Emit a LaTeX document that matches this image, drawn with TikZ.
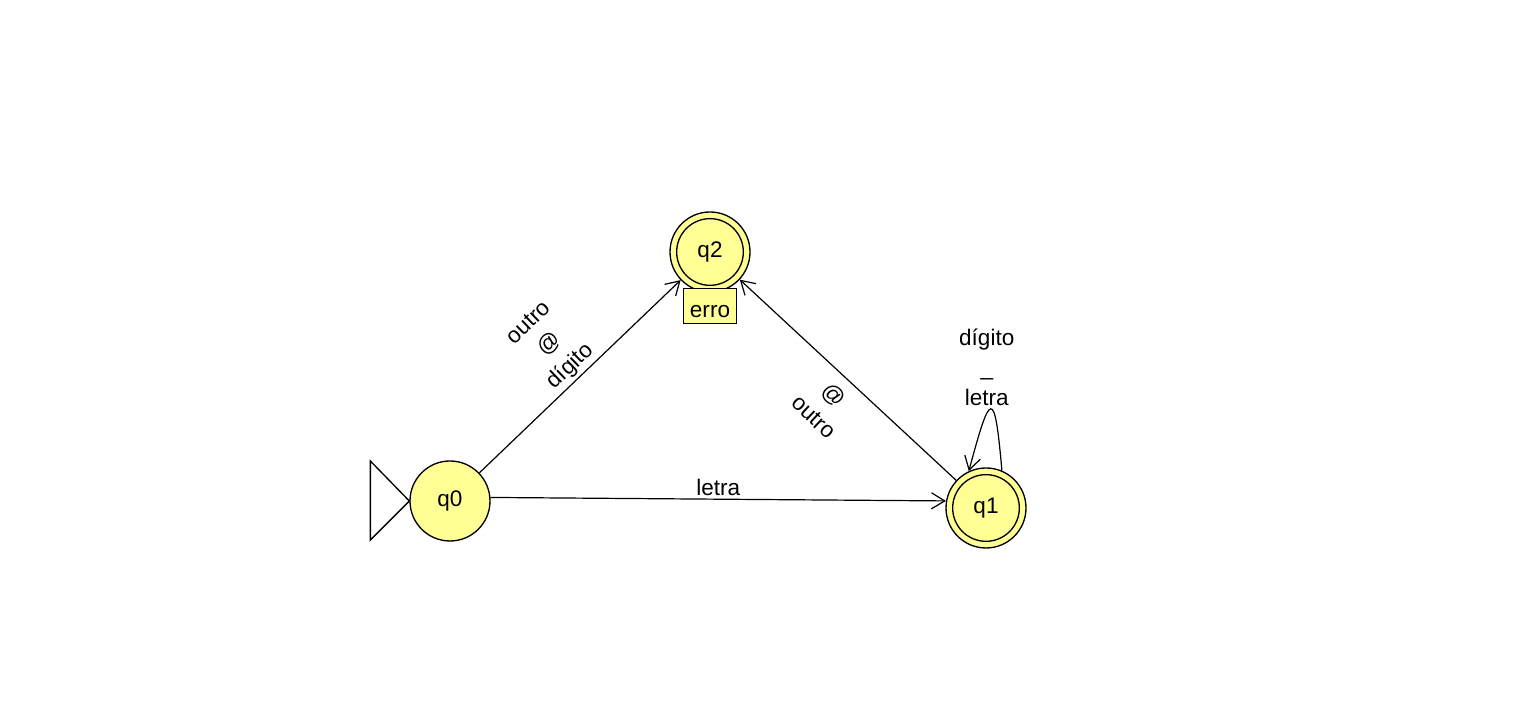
\documentclass[tikz,border=0pt]{standalone}
\usepackage{fontspec}
\setmainfont{Liberation Sans}
\usetikzlibrary{arrows.meta}
\usetikzlibrary{positioning}
\definecolor{stateyellow}{RGB}{255,255,150}

\begin{document}
\begin{tikzpicture}[x=0.75pt,y=0.75pt,font=\fontsize{16.9}{22.5}\selectfont,
state/.style={circle, draw, fill=stateyellow, line width=1pt, minimum size=60pt, inner sep=0pt},
accepting/.style={path picture={\draw[line width=1pt] (path picture bounding box.center) circle[radius=25pt];}},
trans/.style={-{Straight Barb[length=10pt, width=12pt]}, line width=0.9pt},
lbl/.style={align=center, inner sep=2pt}]
\useasboundingbox (0,0) rectangle (1529,716);

\node[state] (q0) at (450,215) {q0};
\node[state, accepting] (q2) at (710,464) {q2};
\node[state, accepting] (q1) at (986,208) {q1};
\node[draw, fill=stateyellow, line width=1pt, minimum width=40pt, text height=22pt, text depth=4.5pt, inner sep=0pt, below=-3.75pt of q2] (erro) {erro};

\draw[line width=1pt] (q0.west) -- ++(-39,40) -- ++(0,-79) -- cycle;

\draw[trans] (q0) -- node[lbl, sloped, above] {outro\\@\\dígito} (q2);
\draw[trans] (q1) -- node[lbl, sloped, below, inner sep=8pt] {@\\outro} (q2);
\draw[trans] (q0.5) -- node[lbl, above] {letra} (q1.170);
\draw[trans] (q1.67) to[out=95, in=75, distance=63pt] node[lbl, above, xshift=-3pt] {dígito\\\_\\letra} (q1.115);
\end{tikzpicture}
\end{document}
